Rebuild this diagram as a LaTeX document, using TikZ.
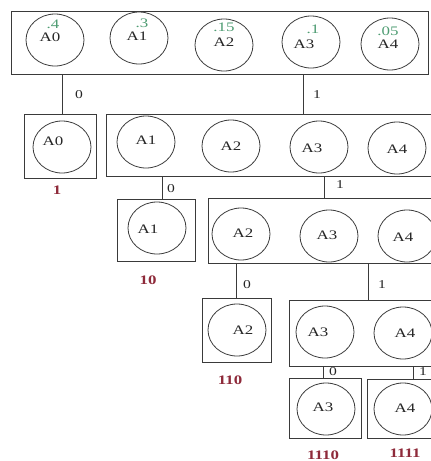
\documentclass[tikz,border=0pt]{standalone}
\usepackage{fontspec}
\setmainfont[FakeStretch=1.3]{Liberation Serif}
\usetikzlibrary{shapes.geometric}
\definecolor{codered}{HTML}{8E2A3A}
\definecolor{probgreen}{HTML}{4E9C72}
\definecolor{linegray}{HTML}{3A3A3A}
\tikzset{
  boxnode/.style={draw=linegray, line width=0.9pt, rectangle, inner sep=0pt},
  ellnode/.style={draw=linegray, line width=0.8pt, ellipse, minimum width=58pt, minimum height=52pt, inner sep=0pt},
  sym/.style={font=\fontsize{13}{14}\selectfont, inner sep=0pt, text=black!85},
  prob/.style={font=\fontsize{13}{14}\selectfont, inner sep=0pt, text=probgreen},
  bit/.style={font=\fontsize{12}{13}\selectfont, inner sep=0pt, text=black!85},
  code/.style={font=\bfseries\fontsize{13}{14}\selectfont, inner sep=0pt, text=codered},
  conn/.style={draw=linegray, line width=0.8pt}
}
\begin{document}
\begin{tikzpicture}[x=1pt,y=-1pt]
\useasboundingbox (0,0) rectangle (431,461);
\clip (0,0) rectangle (431,461);
% boxes
\node[boxnode, minimum width=417pt, minimum height=63pt] (T) at (219.5,42.5) {};
\node[boxnode, minimum width=72pt, minimum height=64pt] (B0) at (60,146) {};
\node[boxnode, minimum width=334pt, minimum height=62pt] (R2) at (273,145) {};
\node[boxnode, minimum width=78pt, minimum height=62pt] (B1) at (156,230) {};
\node[boxnode, minimum width=232pt, minimum height=65pt] (R3) at (324,230.5) {};
\node[boxnode, minimum width=69pt, minimum height=64pt] (B2) at (236.5,330) {};
\node[boxnode, minimum width=151pt, minimum height=66pt] (R4) at (364.5,333) {};
\node[boxnode, minimum width=72pt, minimum height=60pt] (B3) at (325,408) {};
\node[boxnode, minimum width=73pt, minimum height=59pt] (B4) at (403.5,408.5) {};
% top row
\node[ellnode] (t0) at (55,40) {};
\node[ellnode] (t1) at (139,38) {};
\node[ellnode] (t2) at (224,45) {};
\node[ellnode] (t3) at (311,42) {};
\node[ellnode] (t4) at (390,44) {};
\node[prob] (p0) at (53,24) {.4};
\node[sym] (s0) at (50,37) {A0};
\node[prob] (p1) at (142,23) {.3};
\node[sym] (s1) at (137,36) {A1};
\node[prob] (p2) at (224,27) {.15};
\node[sym] (s2) at (224,42) {A2};
\node[prob] (p3) at (313,29) {.1};
\node[sym] (s3) at (304,44) {A3};
\node[prob] (p4) at (388,31) {.05};
\node[sym] (s4) at (388,44) {A4};
% row 2
\node[ellnode] (e0) at (62,147) {};
\node[sym] (l0) at (53,141) {A0};
\node[code] (c0) at (57,190) {1};
\node[ellnode] (e1) at (146,142) {};
\node[sym] (l1) at (146,140) {A1};
\node[ellnode] (e2) at (231,146) {};
\node[sym] (l2) at (231,146) {A2};
\node[ellnode] (e3) at (319,147) {};
\node[sym] (l3) at (312,148) {A3};
\node[ellnode] (e4) at (397,148) {};
\node[sym] (l4) at (397,149) {A4};
% row 3
\node[ellnode] (f1) at (157,228) {};
\node[sym] (m1) at (148,229) {A1};
\node[code] (c1) at (148,280) {10};
\node[ellnode] (f2) at (241,234) {};
\node[sym] (m2) at (243,233) {A2};
\node[ellnode] (f3) at (329,236) {};
\node[sym] (m3) at (327,235) {A3};
\node[ellnode] (f4) at (407,236) {};
\node[sym] (m4) at (403,237) {A4};
% row 4
\node[ellnode] (g2) at (237,330) {};
\node[sym] (n2) at (243,330) {A2};
\node[code] (c2) at (230,380) {110};
\node[ellnode] (g3) at (325,332) {};
\node[sym] (n3) at (318,332) {A3};
\node[ellnode] (g4) at (403,333) {};
\node[sym] (n4) at (405,333) {A4};
% row 5
\node[ellnode] (h3) at (326,409) {};
\node[sym] (o3) at (323,407) {A3};
\node[code] (c3) at (323,455) {1110};
\node[ellnode] (h4) at (403,409) {};
\node[sym] (o4) at (405,408) {A4};
\node[code] (c4) at (405,453) {1111};
% connectors
\coordinate (x0) at (62,0);
\coordinate (x1) at (303,0);
\coordinate (x2) at (162,0);
\coordinate (x3) at (324,0);
\coordinate (x4) at (236,0);
\coordinate (x5) at (368,0);
\coordinate (x6) at (323,0);
\coordinate (x7) at (413,0);
\draw[conn] (T.south -| x0) -- (B0.north -| x0);
\draw[conn] (T.south -| x1) -- (R2.north -| x1);
\draw[conn] (R2.south -| x2) -- (B1.north -| x2);
\draw[conn] (R2.south -| x3) -- (R3.north -| x3);
\draw[conn] (R3.south -| x4) -- (B2.north -| x4);
\draw[conn] (R3.south -| x5) -- (R4.north -| x5);
\draw[conn] (R4.south -| x6) -- (B3.north -| x6);
\draw[conn] (R4.south -| x7) -- (B4.north -| x7);
% edge labels
\node[bit] (b0) at (79,95) {0};
\node[bit] (b1) at (317,95) {1};
\node[bit] (b2) at (171,189) {0};
\node[bit] (b3) at (340,185) {1};
\node[bit] (b4) at (247,285) {0};
\node[bit] (b5) at (382,285) {1};
\node[bit] (b6) at (333,372) {0};
\node[bit] (b7) at (423,372) {1};
\end{tikzpicture}
\end{document}
